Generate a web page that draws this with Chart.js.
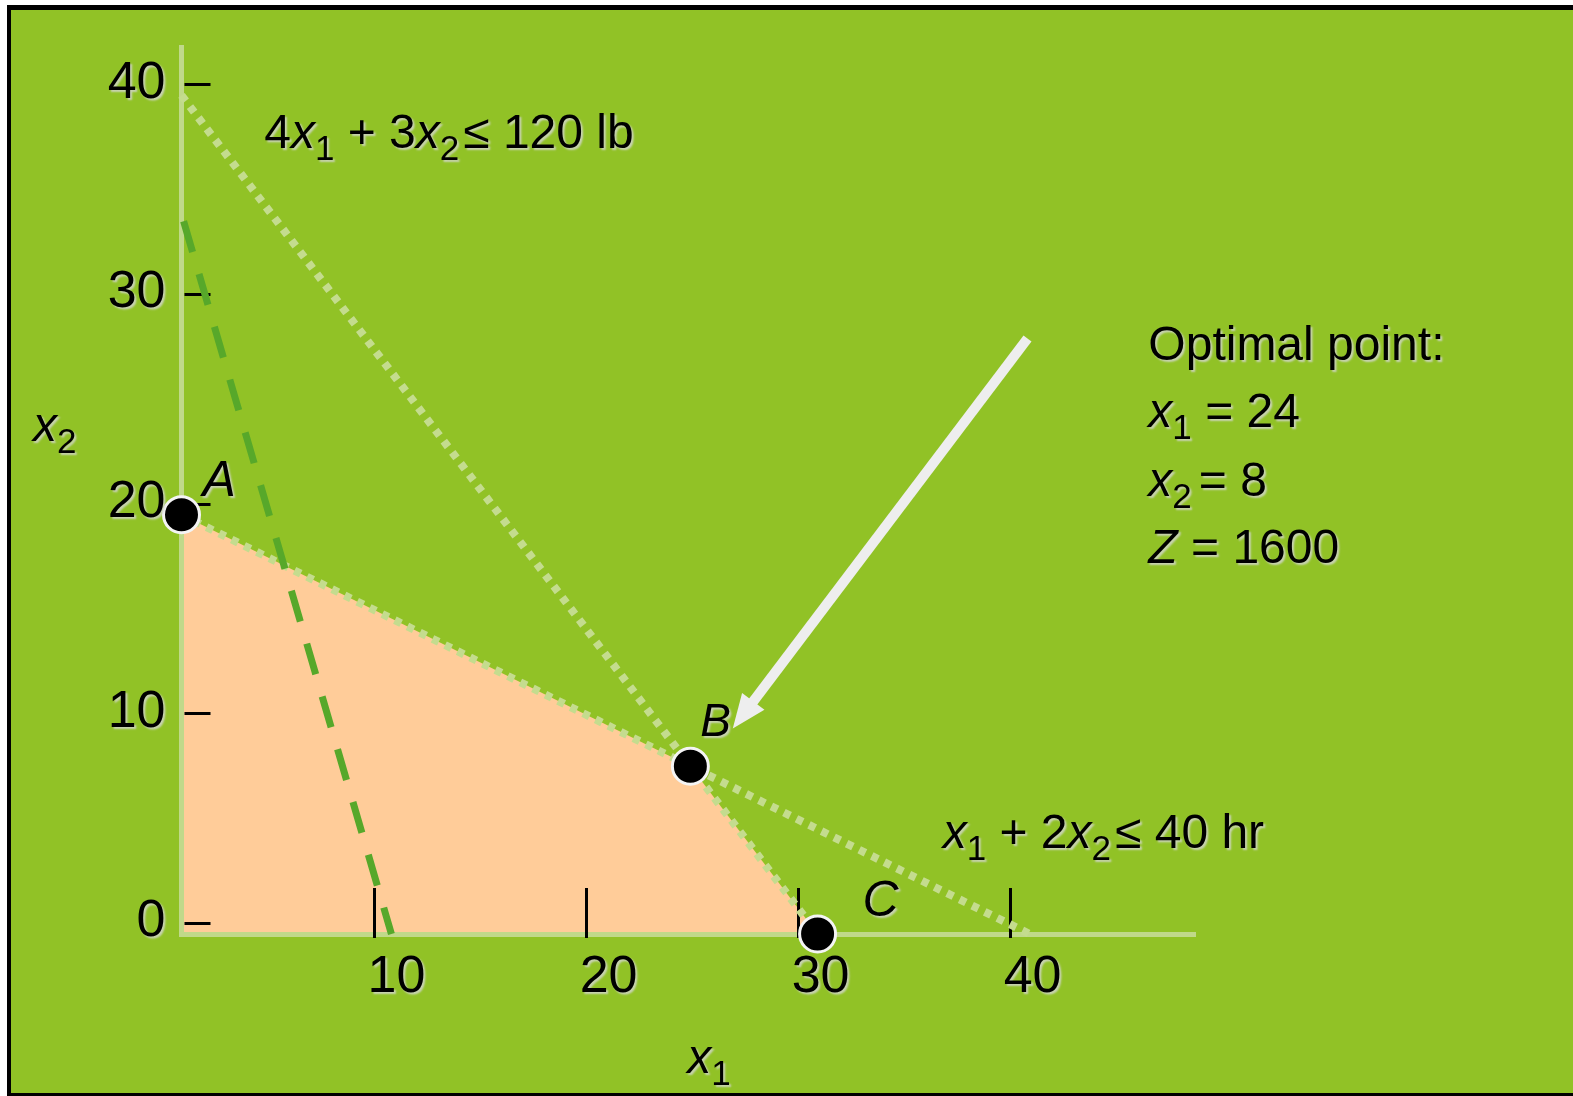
<!DOCTYPE html>
<html>
<head>
<meta charset="utf-8">
<script src="https://cdn.jsdelivr.net/npm/chart.js@4.4.1/dist/chart.umd.min.js"></script>
<style>
  html, body { margin: 0; padding: 0; background: #ffffff; overflow: hidden; }
  #frame {
    position: absolute; left: 7px; top: 5px; width: 1580px; height: 1092px;
    box-sizing: border-box; border: 4px solid #000; border-top-width: 5px;
    background: #91C226;
  }
  #wrap { position: absolute; left: 0; top: 0; width: 1573px; height: 1096px; }
</style>
</head>
<body>
<div id="frame"></div>
<div id="wrap"><canvas id="lp" width="1573" height="1096"></canvas></div>
<script>
// Axis tick values
const xTicks = [10, 20, 30, 40];
const yTicks = [0, 10, 20, 30, 40];

// Corner points of the feasible region (A, B, C)
const cornerPoints = [{x: 0, y: 20}, {x: 24, y: 8}, {x: 30, y: 0}];
const cornerNames = ['A', 'B', 'C'];

// Constraint boundaries
const clayLine = [{x: 0, y: 40}, {x: 30, y: 0}];   // 4x1 + 3x2 = 120
const laborLine = [{x: 0, y: 20}, {x: 40, y: 0}];  // x1 + 2x2 = 40

// Objective function line (dashed)
const objectiveLine = [{x: 0.1, y: 34}, {x: 9.9, y: 0}];

// Optimal solution
const optimum = {x1: 24, x2: 8, Z: 1600};

const FONT = '"Liberation Sans", Arial, sans-serif';

// Draws a row of text runs: plain, 'i' = italic, 's' = subscript, 'g' = fixed gap in px
function drawRuns(ctx, runs, x, y, size) {
  let cx = x;
  ctx.textAlign = 'left';
  ctx.textBaseline = 'alphabetic';
  for (const [t, s] of runs) {
    if (s === 'g') { cx += t; continue; }
    let dy = 0;
    if (s === 'i') ctx.font = `italic ${size}px ${FONT}`;
    else if (s === 's') { ctx.font = `${Math.round(size * 0.72)}px ${FONT}`; dy = size * 0.25; }
    else ctx.font = `${size}px ${FONT}`;
    ctx.fillText(t, cx, y + dy);
    cx += ctx.measureText(t).width;
  }
}

function setShadow(ctx) {
  ctx.shadowColor = 'rgba(215,215,215,0.8)';
  ctx.shadowOffsetX = 2;
  ctx.shadowOffsetY = 2;
  ctx.shadowBlur = 2;
}

const annotations = {
  id: 'annotations',
  beforeDatasetsDraw(chart) {
    const {ctx, chartArea} = chart;
    const xs = chart.scales.x, ys = chart.scales.y;
    ctx.save();
    ctx.strokeStyle = '#000';
    ctx.lineWidth = 3;
    ctx.beginPath();
    for (const v of xTicks) {
      const px = Math.round(xs.getPixelForValue(v) - 20) + 0.5;
      ctx.moveTo(px, chartArea.bottom - 46);
      ctx.lineTo(px, chartArea.bottom + 4);
    }
    for (const v of yTicks) {
      const py = Math.round(ys.getPixelForValue(v) - 11) + 0.5;
      ctx.moveTo(chartArea.left + 3, py);
      ctx.lineTo(chartArea.left + 29, py);
    }
    ctx.stroke();
    ctx.restore();
  },
  afterDatasetsDraw(chart) {
    const {ctx} = chart;
    const xs = chart.scales.x, ys = chart.scales.y;
    // Arrow pointing at the optimal corner
    const tx = xs.getPixelForValue(39.9), ty = ys.getPixelForValue(28.4);
    const hx = xs.getPixelForValue(26.0), hy = ys.getPixelForValue(9.8);
    const dx = hx - tx, dy = hy - ty, len = Math.hypot(dx, dy);
    const ux = dx / len, uy = dy / len;
    const headLen = 34, headHalf = 14;
    const bx = hx - ux * headLen, by = hy - uy * headLen;
    ctx.save();
    ctx.strokeStyle = '#EEEEEE';
    ctx.fillStyle = '#EEEEEE';
    ctx.lineWidth = 10;
    ctx.beginPath();
    ctx.moveTo(tx, ty);
    ctx.lineTo(bx + ux * 4, by + uy * 4);
    ctx.stroke();
    ctx.beginPath();
    ctx.moveTo(hx, hy);
    ctx.lineTo(bx - uy * headHalf, by + ux * headHalf);
    ctx.lineTo(bx + uy * headHalf, by - ux * headHalf);
    ctx.closePath();
    ctx.fill();
    ctx.restore();
    // tick labels drawn next get a soft shadow
    ctx.save();
    setShadow(ctx);
  },
  afterDraw(chart) {
    const {ctx, chartArea} = chart;
    ctx.restore();
    const xs = chart.scales.x, ys = chart.scales.y;
    ctx.save();
    setShadow(ctx);
    ctx.fillStyle = '#000';

    // constraint labels
    drawRuns(ctx, [['4'], ['x', 'i'], ['1', 's'], [' + 3'], ['x', 'i'], ['2', 's'], [4, 'g'], ['\u2264 120 lb']],
      xs.getPixelForValue(3.9), ys.getPixelForValue(37.5), 48);
    drawRuns(ctx, [['x', 'i'], ['1', 's'], [' + 2'], ['x', 'i'], ['2', 's'], [4, 'g'], ['\u2264 40 hr']],
      xs.getPixelForValue(35.9), ys.getPixelForValue(4.1), 48);

    // optimal point summary
    const ox = xs.getPixelForValue(45.6);
    drawRuns(ctx, [['Optimal point:']], ox, ys.getPixelForValue(27.4), 48);
    drawRuns(ctx, [['x', 'i'], ['1', 's'], [' = ' + optimum.x1]], ox, ys.getPixelForValue(24.2), 48);
    drawRuns(ctx, [['x', 'i'], ['2', 's'], [7, 'g'], ['= ' + optimum.x2]], ox, ys.getPixelForValue(20.9), 48);
    drawRuns(ctx, [['Z', 'i'], [' = ' + optimum.Z]], ox, ys.getPixelForValue(17.7), 48);

    // corner point names
    const offs = [[21, -19, 50], [10, -30, 46], [45, -18, 50]];
    cornerPoints.forEach((p, i) => {
      const [ddx, ddy, sz] = offs[i];
      drawRuns(ctx, [[cornerNames[i], 'i']], xs.getPixelForValue(p.x) + ddx, ys.getPixelForValue(p.y) + ddy, sz);
    });

    // axis titles
    const cx = (chartArea.left + chartArea.right) / 2;
    drawRuns(ctx, [['x', 'i'], ['1', 's']], cx - 1, chartArea.bottom + 139, 48);
    const cy = (chartArea.top + chartArea.bottom) / 2;
    drawRuns(ctx, [['x', 'i'], ['2', 's']], 33, cy - 50, 48);
    ctx.restore();
  }
};

const axisColor = '#C0D98A';
const dotColor = '#C4DC8E';

new Chart(document.getElementById('lp'), {
  type: 'scatter',
  data: {
    datasets: [
      {
        label: 'Corner points', data: cornerPoints, order: 0,
        pointRadius: 18, pointBackgroundColor: '#000', pointBorderColor: '#F4F4F4',
        pointBorderWidth: 3, showLine: false, clip: false
      },
      {
        label: 'Objective', type: 'line', data: objectiveLine, order: 1,
        borderColor: '#57A82A', borderWidth: 7, borderDash: [32, 23],
        pointRadius: 0, fill: false, clip: false
      },
      {
        label: '4x1 + 3x2 = 120', type: 'line', data: clayLine, order: 2,
        borderColor: dotColor, borderWidth: 8, borderDash: [7, 7],
        borderCapStyle: 'butt', pointRadius: 0, fill: false, clip: false
      },
      {
        label: 'x1 + 2x2 = 40', type: 'line', data: laborLine, order: 3,
        borderColor: dotColor, borderWidth: 8, borderDash: [7, 7],
        borderCapStyle: 'butt', pointRadius: 0, fill: false, clip: false
      },
      {
        label: 'Feasible region', type: 'line', data: cornerPoints, order: 4,
        fill: 'origin', backgroundColor: '#FFCC99',
        borderColor: 'rgba(0,0,0,0)', borderWidth: 0, pointRadius: 0
      }
    ]
  },
  options: {
    responsive: false,
    animation: false,
    events: [],
    layout: {padding: {left: 0, top: 41, right: 378, bottom: 0}},
    plugins: {
      legend: {display: false},
      tooltip: {enabled: false},
      filler: {drawTime: 'beforeDraw'}
    },
    scales: {
      x: {
        type: 'linear', min: 0, max: 47.8,
        afterFit(s) { s.height = 162; },
        afterBuildTicks(s) { s.ticks = xTicks.map(v => ({value: v})); },
        grid: {display: false, drawTicks: false},
        border: {display: true, color: axisColor, width: 5},
        ticks: {
          z: 2, padding: 12, labelOffset: 3, color: '#000', autoSkip: false, maxRotation: 0,
          font: {family: FONT, size: 52}
        }
      },
      y: {
        type: 'linear', min: 0, max: 42.3,
        afterFit(s) { s.width = 181.5; },
        afterBuildTicks(s) { s.ticks = yTicks.map(v => ({value: v})); },
        grid: {display: false, drawTicks: false},
        border: {display: true, color: axisColor, width: 5},
        ticks: {
          z: 2, padding: 16, labelOffset: -12, color: '#000', autoSkip: false,
          font: {family: FONT, size: 52}
        }
      }
    }
  },
  plugins: [annotations]
});
</script>
</body>
</html>
